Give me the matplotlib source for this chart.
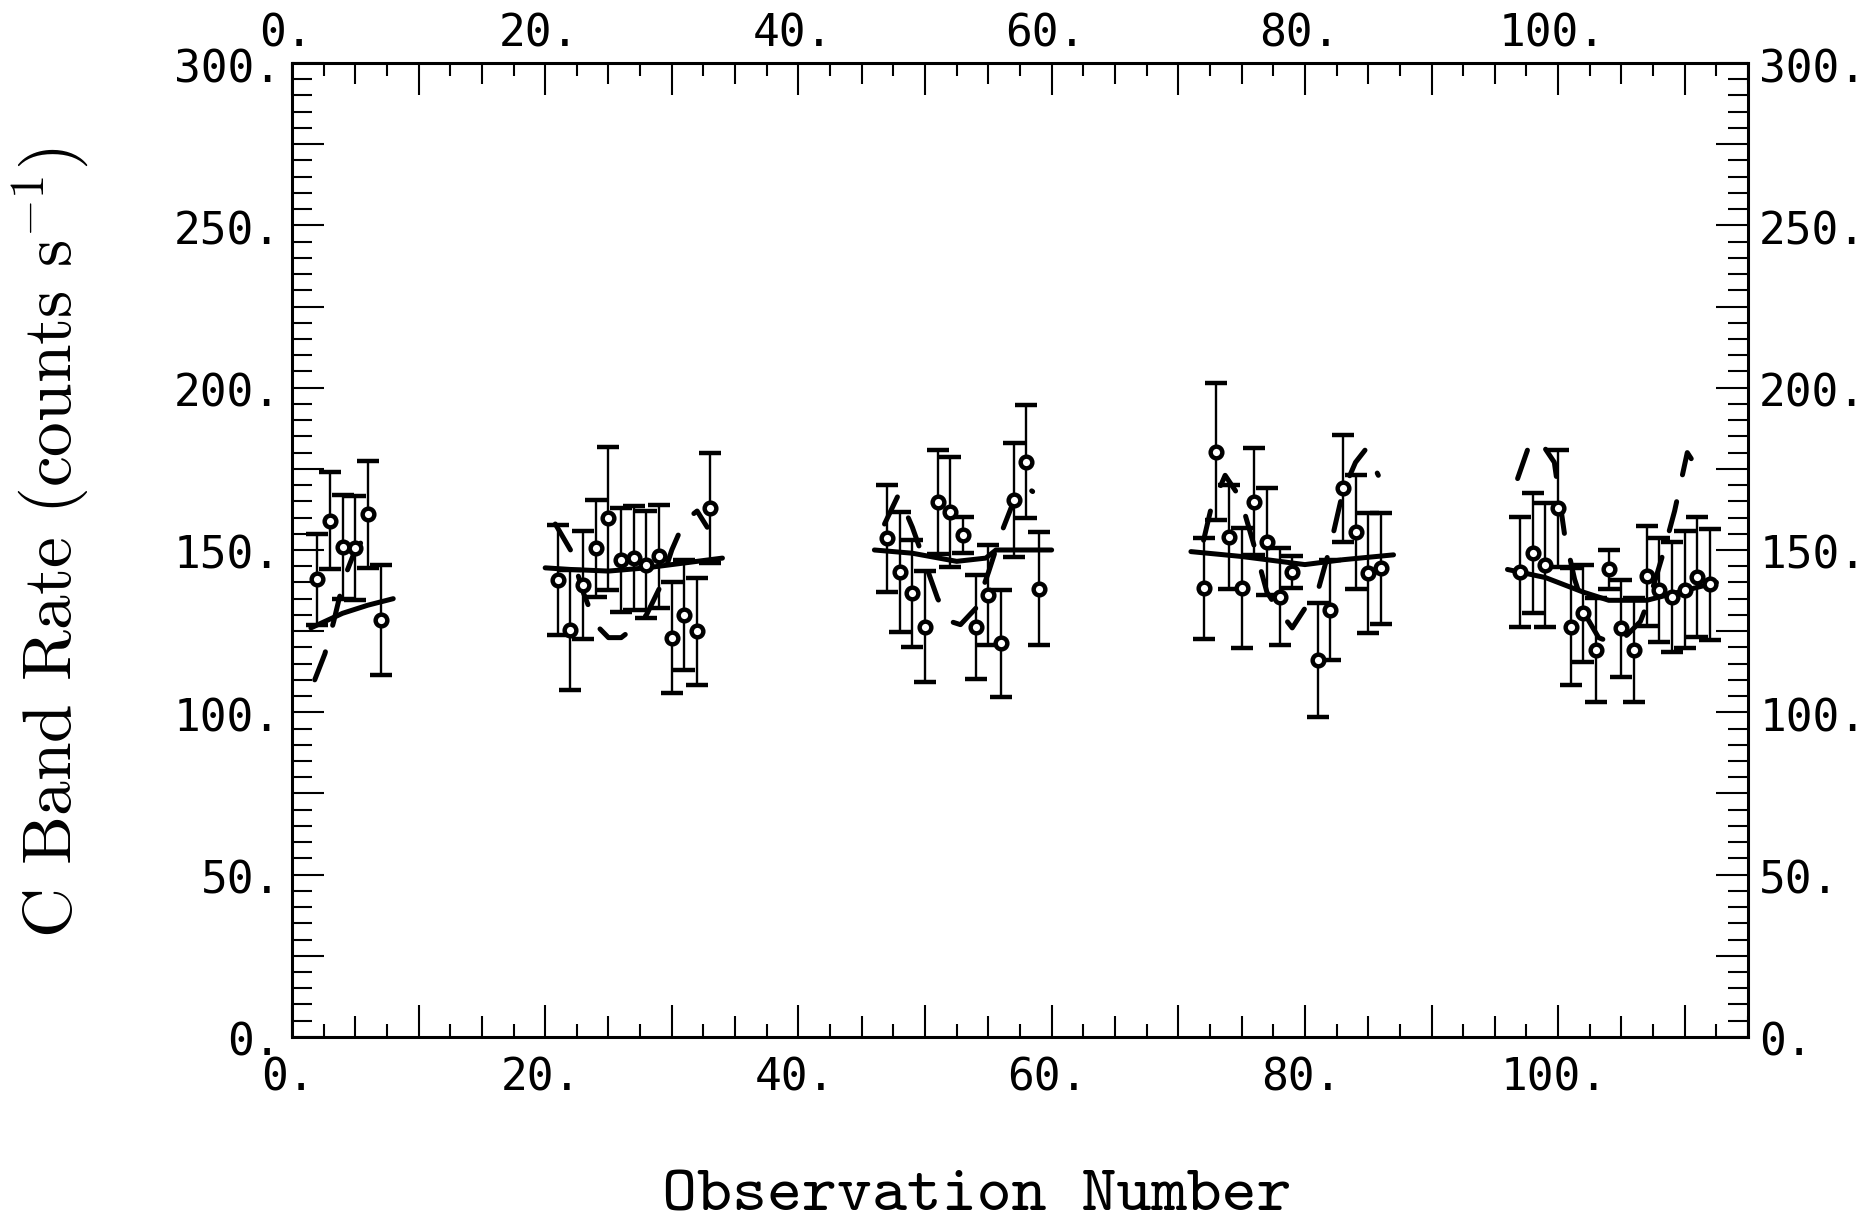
import numpy as np
import matplotlib.pyplot as plt
from matplotlib.ticker import MultipleLocator, FixedLocator, FuncFormatter
from matplotlib.transforms import ScaledTranslation

plt.rcParams['mathtext.fontset'] = 'cm'
tick_font = 'DejaVu Sans Mono'

# C band count rates, one block per observing group
obs_1 = [2, 3, 4, 5, 6, 7]
rate_1 = [141, 159, 151, 150.5, 161, 128.5]
err_1 = [14, 15, 16, 16, 16.5, 17]

obs_2 = [21, 22, 23, 24, 25, 26, 27, 28, 29, 30, 31, 32, 33]
rate_2 = [140.7, 125.3, 139.2, 150.5, 159.7, 147, 147.5, 145.5, 148, 123, 130, 125, 163]
err_2 = [17, 18.5, 16.5, 15, 22, 16, 16, 16.5, 16, 17, 17, 16.5, 17]

obs_3 = [47, 48, 49, 50, 51, 52, 53, 54, 55, 56, 57, 58, 59]
rate_3 = [153.6, 143.3, 136.6, 126.4, 164.8, 161.7, 154.6, 126.4, 136.1, 121.3, 165.4, 177.2, 138.1]
err_3 = [16.5, 18.5, 16.5, 17, 16, 17, 5.5, 16, 15.5, 16.5, 17.5, 17.5, 17.5]

obs_4 = [72, 73, 74, 75, 76, 77, 78, 79, 81, 82, 83, 84, 85, 86]
rate_4 = [138.2, 180.3, 154.1, 138.2, 164.9, 152.5, 135.6, 143.3, 116.1, 131.5, 169, 155.6, 142.8, 144.3]
err_4 = [15.5, 21, 16, 18.5, 16.5, 16.5, 15, 5, 17.5, 15.5, 16.5, 17.5, 18.5, 17]

obs_5 = [97, 98, 99, 100, 101, 102, 103, 104, 105, 106, 107, 108, 109, 110, 111, 112]
rate_5 = [143.3, 149.2, 145.4, 162.8, 126.4, 130.5, 119.2, 144, 125.9, 119.2,
          142, 137.7, 135.6, 137.7, 141.8, 139.4]
err_5 = [17, 18.5, 19, 18, 18, 15, 16, 6, 15, 16, 15.5, 16, 17, 18, 18.5, 17]

# steady model (solid) for each group
steady_x = [[1.5, 4, 6, 8],
            [20, 22, 25, 28, 31, 34],
            [46, 49, 52.5, 54.8, 55.6, 60],
            [71, 75, 80, 83, 87],
            [96, 99, 102, 104, 107, 110, 112.5]]
steady_y = [[126, 130.5, 133, 135],
            [144.5, 144, 143.5, 144.5, 146, 147.5],
            [150, 149, 146.5, 147.5, 150, 150],
            [149.5, 148, 145.5, 147, 148.5],
            [144, 141.5, 137, 134.5, 134.5, 137.5, 140]]

# modulated model (dashed) for each group
mod_x = [[1.8, 2.6, 3.3, 4.1, 5.0, 6.0, 6.8],
         [20.8, 22, 23, 24, 25, 26, 27, 28, 29, 30, 31, 32, 32.8],
         [46.8, 47.9, 49, 50, 51, 52, 52.8, 54, 55, 56, 57, 57.8, 58.5],
         [72, 72.6, 73.7, 74.9, 76.2, 77, 78, 79, 80, 81, 82, 83, 84, 84.8, 85.8],
         [96.8, 97.6, 98.5, 99.7, 100.5, 101.3, 102.3, 103.2, 104.5, 105.5,
          106.5, 107.3, 108.3, 109.2, 110.2, 111.2]]
mod_y = [[110, 118, 128, 141, 150, 155, 152],
         [158, 150, 137, 127, 123, 123, 126, 130, 138, 150, 159, 162, 157],
         [158, 167, 157, 146, 135, 128, 127, 132, 143, 155, 165, 170, 168],
         [153, 163, 173, 166, 148.5, 137, 131, 126, 132, 137, 151, 168, 177, 181, 173],
         [172, 181, 184, 177, 155, 141, 129, 123, 121, 124, 128, 136, 149, 162, 180, 174]]

obs = obs_1 + obs_2 + obs_3 + obs_4 + obs_5
rate = rate_1 + rate_2 + rate_3 + rate_4 + rate_5
err = err_1 + err_2 + err_3 + err_4 + err_5

fig = plt.figure(figsize=(18.63, 12.26), dpi=100)
ax = fig.add_axes([0.1567, 0.1542, 0.7816, 0.7944])

for xs, ys in zip(steady_x, steady_y):
    ax.plot(xs, ys, '-', color='black', lw=3.6, solid_capstyle='round', zorder=3)
for xs, ys in zip(mod_x, mod_y):
    ax.plot(xs, ys, color='black', lw=3.6, dashes=(6, 5.5), dash_capstyle='round', zorder=3)

ax.errorbar(obs, rate, yerr=err, fmt='o', color='black', ms=8.4, mfc='white',
            mec='black', mew=3.2, elinewidth=1.7, capsize=8, capthick=2.6, zorder=4)

ax.set_xlim(0, 115)
ax.set_ylim(0, 300)
for s in ax.spines.values():
    s.set_linewidth(2.2)

# x: long ticks every 10, medium at 5, short at 2.5, labels every 20
ax.xaxis.set_major_locator(MultipleLocator(10))
minor_x = [v for v in np.arange(0, 115.1, 2.5) if v % 10 != 0]
ax.xaxis.set_minor_locator(FixedLocator(minor_x))
ax.xaxis.set_major_formatter(FuncFormatter(lambda v, p: f'{v:.0f}.' if v % 20 == 0 else ''))

# y: long ticks every 25, short every 5, labels every 50
ax.yaxis.set_major_locator(MultipleLocator(25))
ax.yaxis.set_minor_locator(MultipleLocator(5))
ax.yaxis.set_major_formatter(FuncFormatter(lambda v, p: f'{v:.0f}.' if v % 50 == 0 else ''))

ax.tick_params(which='both', direction='in', top=True, right=True,
               labeltop=True, labelright=True, width=1.5, colors='black')
ax.tick_params(axis='x', which='major', length=23, pad=14)
ax.tick_params(axis='x', which='minor', length=9.4)
ax.tick_params(axis='y', which='major', length=23, pad=8)
ax.tick_params(axis='y', which='minor', length=14.4)

for tick, loc in zip(ax.xaxis.get_minor_ticks(len(minor_x)), minor_x):
    if loc % 5 == 0:
        tick.tick1line.set_markersize(15)
        tick.tick2line.set_markersize(15)

# label offsets
bottom_shift = ScaledTranslation(-4 / 100, 0, fig.dpi_scale_trans)
top_shift = ScaledTranslation(-6 / 100, -12 / 100, fig.dpi_scale_trans)
side_shift = ScaledTranslation(0, -2 / 100, fig.dpi_scale_trans)
for tick in ax.xaxis.get_major_ticks():
    tick.label1.set_transform(tick.label1.get_transform() + bottom_shift)
    tick.label2.set_transform(tick.label2.get_transform() + top_shift)
for tick in ax.yaxis.get_major_ticks():
    tick.label1.set_transform(tick.label1.get_transform() + side_shift)
    tick.label2.set_transform(tick.label2.get_transform() + side_shift)

for tick in ax.xaxis.get_major_ticks() + ax.yaxis.get_major_ticks():
    for lab in (tick.label1, tick.label2):
        lab.set_fontfamily(tick_font)
        lab.set_fontsize(32)

fig.text(977 / 1863, 1 - 1198 / 1226, 'Observation Number', fontfamily='cmtt10',
         fontsize=48, ha='center', va='center')
fig.text(50 / 1863, 1 - 543 / 1226, 'C Band Rate (counts s$^{-1}$)', fontfamily='cmr10',
         fontsize=50, rotation=90, ha='center', va='center')

fig.savefig('out.png', dpi=100, facecolor='white')
